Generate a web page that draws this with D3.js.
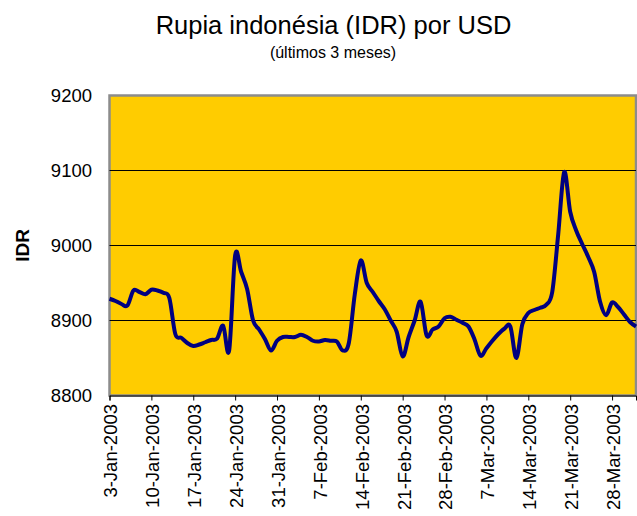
<!DOCTYPE html>
<html>
<head>
<meta charset="utf-8">
<style>
    body { margin: 0; background: #fff; }
    text { font-family: "Liberation Sans", Arial, sans-serif; }
</style>
</head>
<body>
<script src="https://cdn.jsdelivr.net/npm/d3@7"></script>
<script>
    // daily IDR per USD, starting 3-Jan-2003
    let startDay = "2003-01-03"
    let rates = [
        8929, 8926, 8922, 8920, 8940, 8938, 8935, 8941, 8940, 8937,
        8930, 8882, 8877, 8870, 8866, 8868, 8871, 8874, 8876, 8893,
        8860, 8987, 8965, 8942, 8900, 8888, 8875, 8860, 8873, 8878,
        8878, 8878, 8881, 8878, 8873, 8872, 8874, 8873, 8872, 8860,
        8870, 8935, 8980, 8950, 8938, 8926, 8915, 8900, 8885, 8852,
        8878, 8900, 8925, 8880, 8888, 8892, 8903, 8905, 8901, 8897,
        8892, 8875, 8853, 8863, 8873, 8882, 8889, 8892, 8850, 8895,
        8910, 8914, 8917, 8921, 8938, 9015, 9098, 9045, 9020, 9002,
        8985, 8965, 8925, 8907, 8924, 8918, 8908, 8898, 8892
    ]
    let tickLabels = ["3-Jan-2003", "10-Jan-2003", "17-Jan-2003", "24-Jan-2003", "31-Jan-2003",
        "7-Feb-2003", "14-Feb-2003", "21-Feb-2003", "28-Feb-2003", "7-Mar-2003",
        "14-Mar-2003", "21-Mar-2003", "28-Mar-2003"]
    let yTicks = [8800, 8900, 9000, 9100, 9200]

    let parseIso = d3.timeParse("%Y-%m-%d"),
        parseLabel = d3.timeParse("%d-%b-%Y")
    let start = parseIso(startDay)
    let days = rates.map((v, i) => d3.timeDay.offset(start, i))
    let tickDates = tickLabels.map(parseLabel)

    let plotL = 109.5, plotR = 636, plotT = 95.5, plotB = 395.5

    let svg = d3.select("body").append("svg")
        .attr("width", 637).attr("height", 516)

    let x = d3.scaleTime().domain([days[0], days[days.length - 1]]).range([plotL, plotR])
    let y = d3.scaleLinear().domain([8800, 9200]).range([plotB, plotT])

    // plot area
    svg.append("rect")
        .attr("x", plotL).attr("y", plotT)
        .attr("width", plotR - plotL).attr("height", plotB - plotT)
        .attr("fill", "#ffcc00").attr("stroke", "#8c8c8c").attr("stroke-width", 2.5)

    // gridlines
    svg.append("g").selectAll("line")
        .data(yTicks.slice(1, -1))
        .join("line")
        .attr("x1", plotL).attr("x2", plotR)
        .attr("y1", d => y(d)).attr("y2", d => y(d))
        .attr("stroke", "#000").attr("stroke-width", 1)

    // x axis
    let xAxis = svg.append("g")
        .attr("transform", `translate(0,${plotB})`)
        .call(d3.axisBottom(x).tickValues(tickDates).tickSize(5).tickPadding(0)
            .tickFormat((d, i) => tickLabels[i]))
    xAxis.select(".domain").attr("stroke", "#000").attr("stroke-width", 1)
    xAxis.selectAll(".tick line").attr("stroke", "#000")
    xAxis.selectAll(".tick text")
        .attr("transform", "rotate(-90)")
        .attr("text-anchor", "end")
        .attr("x", -8.5).attr("y", 0).attr("dy", "0.4em")
        .attr("font-size", 18.5).attr("fill", "#000")
        .attr("font-family", "Liberation Sans, Arial, sans-serif")

    // y axis labels
    let yAxis = svg.append("g")
        .attr("transform", `translate(${plotL},0)`)
        .call(d3.axisLeft(y).tickValues(yTicks).tickSize(0).tickPadding(17.5)
            .tickFormat(d3.format("d")))
    yAxis.select(".domain").remove()
    yAxis.selectAll(".tick text")
        .attr("font-size", 18.5).attr("fill", "#000")
        .attr("font-family", "Liberation Sans, Arial, sans-serif")

    svg.append("text")
        .attr("transform", "translate(29,245.5) rotate(-90)")
        .attr("text-anchor", "middle")
        .attr("font-size", 19).attr("font-weight", "bold")
        .text("IDR")

    // the series
    let line = d3.line()
        .x((d, i) => x(days[i]))
        .y(d => y(d))
        .curve(d3.curveCatmullRom.alpha(0))
    svg.append("path")
        .datum(rates)
        .attr("d", line)
        .attr("fill", "none")
        .attr("stroke", "#000080")
        .attr("stroke-width", 4)
        .attr("stroke-linejoin", "round")

    // titles
    svg.append("text")
        .attr("x", 333.5).attr("y", 33.5)
        .attr("text-anchor", "middle")
        .attr("font-size", 25.5)
        .text("Rupia indonésia (IDR) por USD")
    svg.append("text")
        .attr("x", 333).attr("y", 58)
        .attr("text-anchor", "middle")
        .attr("font-size", 16)
        .text("(últimos 3 meses)")
</script>
</body>
</html>
